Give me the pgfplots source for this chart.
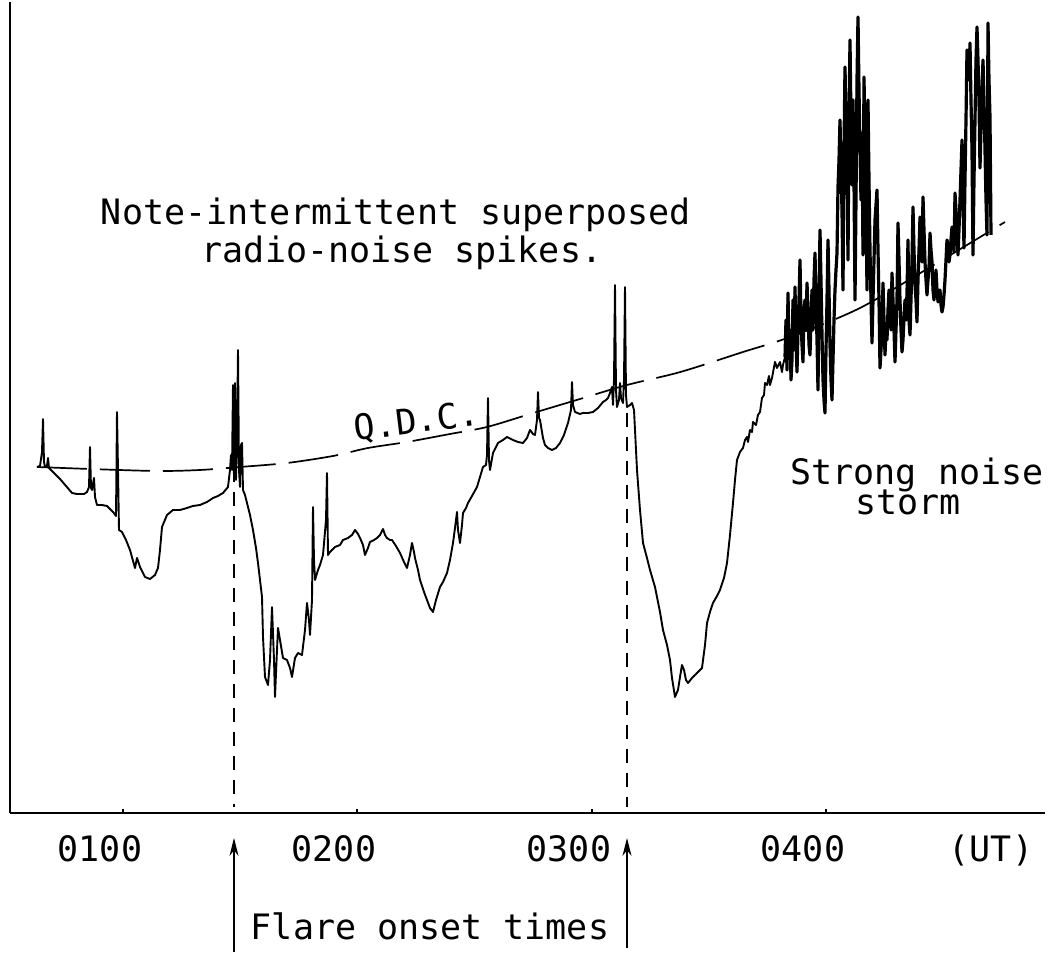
\documentclass[border=0pt]{standalone}
\usepackage{fontspec}
\usepackage{pgfplots}
\pgfplotsset{compat=1.18}
\usepackage{pgfplotstable}
\usetikzlibrary{arrows.meta}
\newfontfamily\plotfont{DejaVu Sans Mono}
\newcommand\pf{\plotfont\fontsize{17.5pt}{19pt}\selectfont}

% trace digitised from the record: horizontal position, vertical position (page units, downward)
\pgfplotstableread{
px py
37 467
40 466
42 452
43 419
44 462
45 467
47 466
48 458
49 468
53 472
60 479
66 486
72 493
77 494
84 494
87 492
89 487
90 447
91 488
92 490
94 478
95 497
97 505
102 505
107 506
113 512
116 516
117 412
118 470
119 530
122 532
126 540
130 550
135 568
137 558
140 567
145 577
150 579
155 575
158 568
160 550
162 527
167 515
173 510
180 510
187 508
193 506
200 505
207 502
213 498
218 496
223 493
228 487
230 470
231 455
232 470
233 385
234 478
235 383
236 480
237 440
238 350
239 470
240 487
241 445
242 443
243 490
245 495
247 503
250 515
253 530
256 548
258 563
260 580
262 597
263 637
265 677
268 685
270 660
272 607
274 660
275 697
277 650
278 628
280 640
283 658
287 660
290 668
292 677
295 658
298 653
302 655
305 630
307 603
309 620
310 635
312 600
313 507
314 560
315 580
318 570
320 565
323 555
326 520
327 473
328 555
330 552
335 547
340 545
343 540
348 538
352 535
355 530
358 534
360 538
363 545
365 555
368 548
370 542
374 540
377 538
380 535
383 529
385 535
387 538
390 540
392 540
396 546
400 553
404 562
407 568
410 555
412 543
414 552
415 558
418 570
420 580
424 592
427 600
430 608
433 612
436 600
440 587
443 582
447 573
450 560
453 543
455 528
457 512
458 530
460 543
462 525
463 513
466 508
468 503
472 496
477 487
480 477
483 467
486 465
487 455
488 398
489 460
490 470
493 453
498 443
503 440
507 437
513 440
518 442
523 443
527 438
530 430
533 434
535 435
537 420
538 392
539 418
540 420
543 438
545 445
548 448
552 450
556 448
560 443
564 435
568 423
571 410
572 382
573 405
575 412
580 414
583 413
588 413
593 412
598 408
603 402
606 400
608 398
610 393
612 387
613 405
614 380
615 285
616 390
617 407
619 400
620 383
621 398
623 403
624 380
625 287
626 395
627 407
630 405
632 403
634 410
635 430
637 470
640 510
643 543
647 558
650 570
655 587
660 612
663 630
667 645
670 660
672 678
675 697
678 690
680 677
682 665
684 670
686 680
688 683
692 678
697 673
702 668
705 645
707 623
710 612
713 603
717 596
720 590
724 578
727 563
730 535
733 503
735 480
737 460
740 452
743 448
745 440
747 437
748 442
750 430
752 432
753 422
756 425
758 415
760 412
762 398
764 395
765 383
767 385
769 376
770 385
772 378
775 362
777 368
780 362
782 372
783 365
785 357
786 320
787 370
788 293
789 350
790 330
791 380
792 360
793 300
794 350
795 287
796 340
797 372
798 330
799 300
800 260
801 320
802 345
803 362
804 310
805 300
806 330
807 283
808 310
809 345
810 355
811 320
812 290
813 330
814 280
815 253
816 300
817 340
818 390
819 300
820 230
821 280
822 335
823 380
824 400
825 413
826 350
827 300
828 240
829 290
830 345
831 380
832 400
833 360
834 320
835 290
836 270
837 253
838 187
839 160
840 120
841 170
842 210
843 290
844 150
845 67
846 120
847 160
848 260
849 120
850 40
851 120
852 185
853 100
854 180
855 300
856 200
857 80
858 17
859 90
860 150
861 200
862 133
863 255
864 77
865 140
866 200
867 290
868 100
869 180
870 250
871 300
872 343
873 300
874 260
875 220
876 205
877 190
878 250
879 300
880 368
881 350
882 330
883 283
884 320
885 355
886 330
887 340
888 310
889 290
890 310
891 330
892 273
893 300
894 330
895 362
896 330
897 300
898 223
899 260
900 300
901 330
902 352
903 340
904 318
905 300
906 320
907 293
908 240
909 320
910 335
911 300
912 260
913 207
914 250
915 285
916 300
917 322
918 280
919 250
920 217
921 240
922 262
923 197
924 230
925 262
926 280
927 295
928 280
929 268
930 233
931 250
932 262
933 290
934 300
935 285
936 270
937 290
938 302
939 295
940 290
941 305
942 312
943 307
944 295
945 280
946 260
947 240
948 245
949 262
950 255
951 240
952 227
953 240
954 252
955 193
956 210
957 232
958 255
959 230
960 200
961 170
962 140
963 200
964 248
965 180
966 120
967 50
968 60
969 80
970 43
971 100
972 150
973 255
974 180
975 120
976 60
977 27
978 60
979 100
980 168
981 130
982 90
983 60
984 100
985 150
986 200
987 235
988 23
989 80
990 117
991 235
}\trace

% quiet-day curve (Q.D.C.)
\pgfplotstableread{
px py
37 467
90 469
157 471
200 470
240 467
287 463
333 456
368 448
407 442
450 434
487 427
530 414
580 399
627 385
673 374
700 366
743 352
790 337
860 308
937 263
1005 222
}\qdc

\begin{document}
\begin{tikzpicture}
\begin{axis}[
  at={(0,0)}, anchor=south west,
  scale only axis, width=517.5pt, height=405.5pt,
  xmin=10, xmax=1045, ymin=0, ymax=811,
  axis x line=bottom, axis y line=left,
  axis line style={-, line width=1.1pt, black},
  xtick={123,357,592,826},
  xticklabels={\mbox{0100},\mbox{0200},\mbox{0300},\mbox{0400}},
  ytick=\empty,
  tick align=inside, major tick length=2pt,
  tick style={black, line width=0.6pt},
  xticklabel style={font=\pf, anchor=base, xshift=-11.5pt, yshift=-24.5pt},
  clip=false,
]
\addplot[black, line width=0.95pt, mark=none, line join=round] table[x=px, y expr=813-\thisrow{py}] {\trace};
% the storm interval is drawn by the recorder as a dense dark band
\addplot[black, line width=1.6pt, mark=none, line join=round, restrict x to domain=785:991] table[x=px, y expr=813-\thisrow{py}] {\trace};
\addplot[black, line width=0.85pt, mark=none, smooth, dash pattern=on 25pt off 6.5pt] table[x=px, y expr=813-\thisrow{py}] {\qdc};
\addplot[black, line width=0.85pt, mark=none, dash pattern=on 7pt off 5pt] coordinates {(234,345) (234,6)};
\addplot[black, line width=0.85pt, mark=none, dash pattern=on 7pt off 5pt] coordinates {(627,400) (627,6)};
\node[anchor=base, font=\pf] at (axis cs:396,588) {Note-intermittent superposed};
\node[anchor=base, font=\pf] at (axis cs:402,550) {radio-noise spikes.};
\node[anchor=base, font=\pf] at (axis cs:917,328) {Strong noise};
\node[anchor=base, font=\pf] at (axis cs:908,298) {storm};
\node[anchor=base, font=\pf, rotate=7] at (axis cs:418,380) {Q.D.C.};
\node[anchor=base, font=\pf] at (axis cs:430,-127) {Flare onset times};
\node[anchor=base, font=\pf] at (axis cs:991,-49) {(UT)};
\draw[line width=0.85pt, -{Stealth[length=9pt,width=4.5pt]}] (axis cs:234,-139) -- (axis cs:234,-25);
\draw[line width=0.85pt, -{Stealth[length=9pt,width=4.5pt]}] (axis cs:627,-135) -- (axis cs:627,-25);
\end{axis}
\pgfresetboundingbox
\path (-5pt,-71.5pt) rectangle (520.5pt,406.5pt);
\end{tikzpicture}
\end{document}
